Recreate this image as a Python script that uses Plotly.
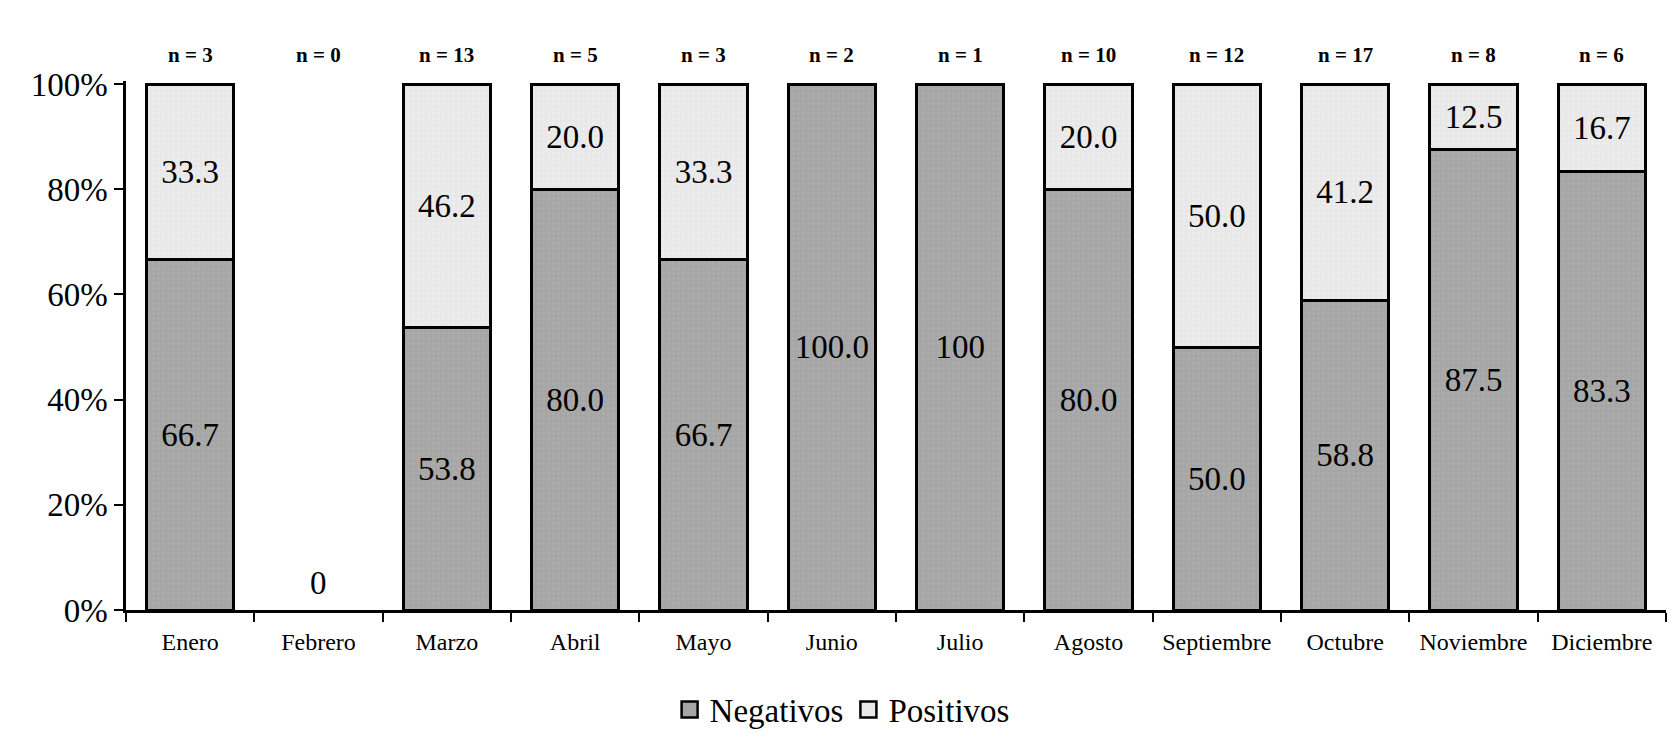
import plotly.graph_objects as go

months = ["Enero", "Febrero", "Marzo", "Abril", "Mayo", "Junio", "Julio",
          "Agosto", "Septiembre", "Octubre", "Noviembre", "Diciembre"]
negativos = [66.7, 0, 53.8, 80.0, 66.7, 100.0, 100, 80.0, 50.0, 58.8, 87.5, 83.3]
positivos = [33.3, 0, 46.2, 20.0, 33.3, 0, 0, 20.0, 50.0, 41.2, 12.5, 16.7]
neg_labels = ["66.7", "0", "53.8", "80.0", "66.7", "100.0", "100", "80.0", "50.0", "58.8", "87.5", "83.3"]
pos_labels = ["33.3", "", "46.2", "20.0", "33.3", "", "", "20.0", "50.0", "41.2", "12.5", "16.7"]
n_counts = [3, 0, 13, 5, 3, 2, 1, 10, 12, 17, 8, 6]
y_ticks = [0, 20, 40, 60, 80, 100]
y_ticktext = ["0%", "20%", "40%", "60%", "80%", "100%"]

FONT = "Liberation Serif, Times New Roman, serif"
NEG_COLOR = "#a6a6a6"
POS_COLOR = "#e8e8e8"
LW = 3

fig = go.Figure()
fig.add_trace(go.Bar(
    x=months, y=negativos, name="Negativos", showlegend=False,
    text=[t if v > 0 else "" for t, v in zip(neg_labels, negativos)],
    textposition="inside", insidetextanchor="middle",
    textfont=dict(family=FONT, size=33, color="black"),
    marker=dict(color=NEG_COLOR,
                line=dict(color="black", width=[LW if v > 0 else 0 for v in negativos]),
                pattern=dict(shape=".", bgcolor=NEG_COLOR, fgcolor="#b4b4b4",
                             size=5, solidity=0.25)),
))
fig.add_trace(go.Bar(
    x=months, y=positivos, name="Positivos", showlegend=False,
    text=pos_labels,
    textposition="inside", insidetextanchor="middle",
    textfont=dict(family=FONT, size=33, color="black"),
    marker=dict(color=POS_COLOR,
                line=dict(color="black", width=[LW if v > 0 else 0 for v in positivos]),
                pattern=dict(shape=".", bgcolor=POS_COLOR, fgcolor="#f4f4f4",
                             size=5, solidity=0.25)),
))
# legend entries with large square swatches
for name, col in [("Negativos", NEG_COLOR), ("Positivos", POS_COLOR)]:
    fig.add_trace(go.Scatter(
        x=[None], y=[None], mode="markers", name=name,
        marker=dict(symbol="square", size=20, color=col,
                    line=dict(color="black", width=2.5)),
    ))

annotations = []
for m, n in zip(months, n_counts):
    annotations.append(dict(
        x=m, y=1, xref="x", yref="paper", text=f"n = {n}", showarrow=False,
        yanchor="middle", yshift=26,
        font=dict(family=FONT, size=21, color="black", weight="bold"),
    ))
for m, v, t, p in zip(months, negativos, neg_labels, positivos):
    if v == 0 and p == 0:
        annotations.append(dict(
            x=m, y=0, xref="x", yref="y", text=t, showarrow=False,
            yanchor="bottom", yshift=7,
            font=dict(family=FONT, size=33, color="black"),
        ))

fig.update_layout(
    barmode="stack",
    bargap=0.32,
    width=1675, height=742,
    margin=dict(l=118, r=17, t=73, b=131),
    paper_bgcolor="white", plot_bgcolor="white",
    font=dict(family=FONT, color="black"),
    uniformtext=dict(minsize=33, mode="show"),
    showlegend=True,
    legend=dict(orientation="h", x=0.465, xanchor="center", y=-0.188,
                yanchor="middle", font=dict(family=FONT, size=33, color="black"),
                traceorder="normal", itemwidth=30, tracegroupgap=0),
    annotations=annotations,
    xaxis=dict(
        showline=True, linecolor="black", linewidth=2.5,
        ticks="outside", tickson="boundaries", ticklen=9, tickwidth=2, tickcolor="black",
        tickfont=dict(family=FONT, size=24, color="black"),
        ticklabelstandoff=8,
        showgrid=False,
    ),
    yaxis=dict(
        range=[0, 100.6],
        tickvals=y_ticks, ticktext=y_ticktext,
        showline=True, linecolor="black", linewidth=2.5,
        ticks="outside", ticklen=9, tickwidth=2, tickcolor="black",
        tickfont=dict(family=FONT, size=33, color="black"),
        showgrid=False, zeroline=False,
    ),
)

fig.write_html("out.html")
